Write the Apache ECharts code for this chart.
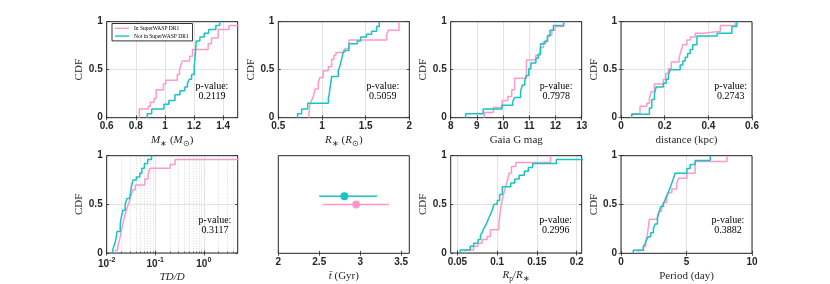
<!DOCTYPE html>
<html><head><meta charset="utf-8">
<script src="https://cdn.jsdelivr.net/npm/echarts@6/dist/echarts.min.js"></script>
<style>html,body{margin:0;padding:0;background:#fff}#c{width:830px;height:284px}</style>
</head><body><div id="c"></div>
<script>
// ---------------- DATA ----------------
const seriesNames = ['In SuperWASP DR1', 'Not in SuperWASP DR1'];

// Panel 1: stellar mass M* (Msun) — CDF step positions and levels
const mstarPinkX = [0.824, 0.886, 0.90, 0.925, 0.94, 0.99, 1.005, 1.085, 1.10, 1.11, 1.12, 1.17, 1.19, 1.297, 1.32, 1.366, 1.44, 1.56];
const mstarPinkY = [0.09, 0.12, 0.16, 0.20, 0.29, 0.35, 0.39, 0.45, 0.50, 0.55, 0.59, 0.64, 0.71, 0.77, 0.83, 0.92, 0.96, 1.0];
const mstarCyanX = [0.879, 0.909, 0.993, 1.027, 1.069, 1.103, 1.137, 1.155, 1.167, 1.183, 1.201, 1.205, 1.21, 1.215, 1.24, 1.27, 1.30, 1.35, 1.377];
const mstarCyanY = [0.04, 0.09, 0.14, 0.18, 0.24, 0.28, 0.32, 0.36, 0.40, 0.45, 0.52, 0.60, 0.68, 0.80, 0.84, 0.88, 0.92, 0.96, 1.0];

// Panel 2: stellar radius R* (Rsun)
const rstarPinkX = [0.851, 0.863, 0.882, 0.901, 0.920, 0.958, 0.977, 1.015, 1.073, 1.111, 1.137, 1.160, 1.263, 1.309, 1.740, 1.760, 1.882];
const rstarPinkY = [0.04, 0.15, 0.18, 0.22, 0.30, 0.37, 0.42, 0.49, 0.53, 0.61, 0.65, 0.68, 0.72, 0.81, 0.87, 0.91, 1.0];
const rstarCyanX = [0.721, 0.767, 0.836, 1.073, 1.084, 1.092, 1.103, 1.111, 1.187, 1.206, 1.225, 1.237, 1.252, 1.309, 1.405, 1.443, 1.511, 1.569, 1.626, 1.656];
const rstarCyanY = [0.04, 0.09, 0.15, 0.20, 0.25, 0.31, 0.37, 0.43, 0.49, 0.54, 0.61, 0.66, 0.70, 0.77, 0.80, 0.84, 0.87, 0.90, 0.95, 1.0];

// Panel 3: Gaia G magnitude
const gmagPinkX = [9.28, 9.63, 9.96, 10.18, 10.33, 10.44, 10.89, 11.25, 11.41, 11.54, 11.70, 11.86, 11.99, 12.31];
const gmagPinkY = [0.055, 0.107, 0.18, 0.22, 0.29, 0.41, 0.60, 0.65, 0.73, 0.79, 0.86, 0.91, 0.95, 1.0];
const gmagCyanX = [8.57, 9.24, 9.96, 10.37, 10.44, 10.67, 10.74, 10.83, 10.89, 10.98, 11.06, 11.25, 11.34, 11.43, 11.60, 11.69, 11.79, 11.92, 12.31];
const gmagCyanY = [0.04, 0.09, 0.13, 0.17, 0.21, 0.28, 0.34, 0.39, 0.44, 0.51, 0.57, 0.62, 0.66, 0.77, 0.80, 0.85, 0.91, 0.96, 1.0];

// Panel 4: distance (kpc)
const distPinkX = [0.049, 0.087, 0.118, 0.130, 0.138, 0.153, 0.194, 0.205, 0.217, 0.230, 0.266, 0.274, 0.283, 0.302, 0.317, 0.340, 0.378, 0.455, 0.524];
const distPinkY = [0.04, 0.12, 0.15, 0.20, 0.27, 0.35, 0.40, 0.46, 0.51, 0.58, 0.62, 0.69, 0.76, 0.81, 0.84, 0.88, 0.90, 0.96, 1.0];
const distCyanX = [0.049, 0.130, 0.141, 0.153, 0.161, 0.194, 0.207, 0.217, 0.225, 0.271, 0.283, 0.294, 0.305, 0.317, 0.329, 0.348, 0.440, 0.508, 0.531];
const distCyanY = [0.035, 0.10, 0.19, 0.25, 0.32, 0.36, 0.40, 0.44, 0.50, 0.55, 0.59, 0.63, 0.67, 0.71, 0.76, 0.85, 0.88, 0.95, 1.0];

// Panel 5: TD/D (log axis)
const tddPinkX = [0.0152, 0.0169, 0.0184, 0.0199, 0.0215, 0.0233, 0.0253, 0.0274, 0.0297, 0.0322, 0.0348, 0.0389, 0.0609, 0.0715, 0.0773, 0.2016, 0.2566, 8.0];
const tddPinkY = [0.03, 0.07, 0.14, 0.22, 0.30, 0.37, 0.44, 0.49, 0.54, 0.60, 0.65, 0.70, 0.76, 0.81, 0.87, 0.91, 0.96, 1.0];
const tddCyanX = [0.0133, 0.0140, 0.0152, 0.0163, 0.0190, 0.0199, 0.0215, 0.0240, 0.0262, 0.0297, 0.0322, 0.0348, 0.0408, 0.0479, 0.0530, 0.0598, 0.0700, 0.0840];
const tddCyanY = [0.03, 0.07, 0.12, 0.22, 0.30, 0.36, 0.44, 0.50, 0.56, 0.58, 0.68, 0.75, 0.78, 0.82, 0.87, 0.92, 0.96, 1.0];

// Panel 6: mean age t-bar (Gyr) with error bars
const tbarMean = [2.951, 2.807];   // pink, cyan
const tbarLow = [2.541, 2.50];
const tbarHigh = [3.352, 3.205];
const tbarLevel = [0.50, 0.584];

// Panel 7: Rp/R*
const rratPinkX = [0.0598, 0.0704, 0.0759, 0.0810, 0.0874, 0.0916, 0.1022, 0.1035, 0.1048, 0.1065, 0.1086, 0.1107, 0.1129, 0.1150, 0.1180, 0.1235, 0.1672];
const rratPinkY = [0.03, 0.07, 0.10, 0.14, 0.17, 0.24, 0.30, 0.40, 0.48, 0.55, 0.62, 0.68, 0.75, 0.82, 0.89, 0.93, 1.0];
const rratCyanX = [0.0534, 0.0661, 0.0704, 0.0759, 0.0789, 0.0810, 0.0831, 0.0853, 0.0874, 0.0895, 0.0916, 0.0938, 0.0959, 0.1001, 0.1031, 0.1065, 0.1171, 0.1222, 0.1277, 0.1341, 0.1392, 0.1447, 0.1745, 0.215];
const rratCyanY = [0.03, 0.07, 0.10, 0.14, 0.18, 0.21, 0.25, 0.28, 0.32, 0.36, 0.40, 0.44, 0.50, 0.54, 0.60, 0.68, 0.72, 0.76, 0.80, 0.84, 0.88, 0.92, 0.96, 1.0];

// Panel 8: orbital period (day)
const perPinkX = [1.33, 1.71, 1.89, 2.02, 2.17, 2.78, 2.91, 3.11, 3.24, 3.49, 3.62, 3.88, 4.26, 4.39, 5.03, 5.66, 8.09];
const perPinkY = [0.03, 0.07, 0.12, 0.20, 0.35, 0.39, 0.43, 0.47, 0.52, 0.57, 0.62, 0.66, 0.72, 0.77, 0.82, 0.94, 1.0];
const perCyanX = [0.94, 1.71, 1.84, 1.96, 2.09, 2.27, 2.47, 2.60, 2.78, 2.91, 3.04, 3.24, 3.37, 3.49, 3.62, 3.75, 3.88, 4.01, 4.13, 5.03, 5.28, 5.66, 6.81];
const perCyanY = [0.03, 0.07, 0.10, 0.14, 0.17, 0.21, 0.25, 0.30, 0.36, 0.42, 0.48, 0.51, 0.55, 0.59, 0.63, 0.67, 0.72, 0.77, 0.82, 0.87, 0.91, 0.95, 1.0];

// KS-test p-values
const pValues = ['0.2119', '0.5059', '0.7978', '0.2743', '0.3117', null, '0.2996', '0.3882'];

// Tick labels / axis ticks
const mstarTicks = [0.6, 0.8, 1, 1.2, 1.4];
const rstarTicks = [0.5, 1, 1.5, 2];
const gmagTicks = [8, 9, 10, 11, 12, 13];
const distTicks = [0, 0.2, 0.4, 0.6];
const tddTicks = [0.01, 0.1, 1];
const tddMinorTicks = [0.02, 0.03, 0.04, 0.05, 0.06, 0.07, 0.08, 0.09, 0.2, 0.3, 0.4, 0.5, 0.6, 0.7, 0.8, 0.9, 2, 3, 4, 5];
const tbarTicks = [2, 2.5, 3, 3.5];
const rratTicks = [0.05, 0.1, 0.15, 0.2];
const perTicks = [0, 5, 10];
const cdfTicks = [0, 0.5, 1];

// ---------------- STYLE / LAYOUT ----------------
const PINK = '#ff99cc', CYAN = '#17c4c4';
const DARK = '#262626', GRID = '#e3e3e3';
const SANS = 'Liberation Sans', SERIF = 'Liberation Serif';
const lefts = [106.7, 278.3, 450.7, 621.0];
const tops = [21.7, 155.7];
const plotW = 131, plotH = [96, 97.6];
const pPos = [[212, 91.3], [382.8, 91.3], [556.2, 91.3], [730.7, 91.3], [215, 225.3], null, [555.7, 225.3], [728, 225.3]];

const nameRich = {
  it: { fontStyle: 'italic', fontFamily: SERIF, fontSize: 11, color: DARK, lineHeight: 15 },
  n: { fontFamily: SERIF, fontSize: 11, color: DARK, lineHeight: 15 },
  sub: { fontFamily: SERIF, fontSize: 7.5, color: DARK, verticalAlign: 'bottom', lineHeight: 12 },
  subit: { fontFamily: SERIF, fontStyle: 'italic', fontSize: 7.5, color: DARK, verticalAlign: 'bottom', lineHeight: 12 }
};

const panels = [
  { type: 'value', min: 0.6, max: 1.5, ticks: mstarTicks, name: '{it|M}{sub|∗}{n| (}{it|M}{sub|⊙}{n|)}', pink: [mstarPinkX, mstarPinkY], cyan: [mstarCyanX, mstarCyanY] },
  { type: 'value', min: 0.5, max: 2, ticks: rstarTicks, name: '{it|R}{sub|∗}{n| (}{it|R}{sub|⊙}{n|)}', pink: [rstarPinkX, rstarPinkY], cyan: [rstarCyanX, rstarCyanY] },
  { type: 'value', min: 8, max: 13, ticks: gmagTicks, name: '{n|Gaia G mag}', pink: [gmagPinkX, gmagPinkY], cyan: [gmagCyanX, gmagCyanY] },
  { type: 'value', min: 0, max: 0.6, ticks: distTicks, name: '{n|distance (kpc)}', pink: [distPinkX, distPinkY], cyan: [distCyanX, distCyanY] },
  { type: 'log', min: 0.01, max: 5, ticks: tddTicks, minor: tddMinorTicks, name: '{it|TD/D}', pink: [tddPinkX, tddPinkY], cyan: [tddCyanX, tddCyanY] },
  { type: 'value', min: 2, max: 3.6, ticks: tbarTicks, name: '{it|t̄}{n| (Gyr)}', errorbar: true },
  { type: 'value', min: 0.0415, max: 0.2064, ticks: rratTicks, name: '{it|R}{sub|p}{n|/}{it|R}{sub|∗}', pink: [rratPinkX, rratPinkY], cyan: [rratCyanX, rratCyanY] },
  { type: 'value', min: 0, max: 10, ticks: perTicks, name: '{n|Period (day)}', pink: [perPinkX, perPinkY], cyan: [perCyanX, perCyanY] }
];

function stepData(xs, ys) {
  const d = [[xs[0], 0]];
  for (let i = 0; i < xs.length; i++) d.push([xs[i], ys[i]]);
  return d;
}

const grid = [], xAxis = [], yAxis = [], series = [], graphic = [];
const labelStyle = { fontFamily: SANS, fontSize: 10, fontWeight: 'bold', color: DARK };

panels.forEach((p, i) => {
  const row = Math.floor(i / 4), col = i % 4;
  grid.push({ left: lefts[col], top: tops[row], width: plotW, height: plotH[row], show: true, borderColor: DARK, borderWidth: 1, backgroundColor: 'transparent', z: 1 });
  const isLog = p.type === 'log';
  const xBottom = {
    gridIndex: i, type: p.type, min: p.min, max: p.max, position: 'bottom', z: 0,
    axisLine: { show: false },
    axisTick: { show: true, inside: true, length: 2.5, customValues: p.ticks, lineStyle: { color: DARK, width: 0.8 } },
    axisLabel: Object.assign({ customValues: p.ticks, margin: 4, showMinLabel: true, showMaxLabel: true,
      formatter: isLog ? (v) => { const e = Math.round(Math.log10(v)); return '{b|10}{sup|' + (e < 0 ? '-' + (-e) : e) + '}'; } : undefined,
      rich: isLog ? { b: Object.assign({ lineHeight: 14 }, labelStyle), sup: Object.assign({}, labelStyle, { fontSize: 7, verticalAlign: 'top', lineHeight: 7 }) } : undefined
    }, labelStyle),
    splitLine: { show: !p.errorbar, lineStyle: { color: GRID, width: 1 } },
    name: p.name, nameLocation: 'middle', nameGap: isLog ? 17 : 15,
    nameTextStyle: { rich: nameRich }
  };
  if (!isLog) { delete xBottom.axisLabel.formatter; delete xBottom.axisLabel.rich; }
  const xb = xAxis.length; xAxis.push(xBottom);
  xAxis.push({ gridIndex: i, type: p.type, min: p.min, max: p.max, position: 'top', z: 0,
    axisLine: { show: false }, axisLabel: { show: false }, splitLine: { show: false },
    axisTick: { show: true, inside: true, length: 2.5, customValues: p.ticks, lineStyle: { color: DARK, width: 0.8 } } });
  if (p.minor) {
    xAxis.push({ gridIndex: i, type: p.type, min: p.min, max: p.max, position: 'bottom', z: 0,
      axisLine: { show: false }, axisLabel: { show: false },
      axisTick: { show: true, inside: true, length: 1.5, customValues: p.minor, lineStyle: { color: DARK, width: 0.6 } },
      splitLine: { show: true, lineStyle: { color: '#cfcfcf', width: 0.8, type: [1, 1.5] } } });
  }
  const yl = yAxis.length;
  yAxis.push({ gridIndex: i, type: 'value', min: 0, max: 1, position: 'left', z: 0,
    axisLine: { show: false },
    axisTick: { show: !p.errorbar, inside: true, length: 2.5, customValues: cdfTicks, lineStyle: { color: DARK, width: 0.8 } },
    axisLabel: Object.assign({ show: !p.errorbar, customValues: cdfTicks, margin: 4 }, labelStyle),
    splitLine: { show: !p.errorbar, lineStyle: { color: GRID, width: 1 } },
    name: p.errorbar ? '' : 'CDF', nameLocation: 'middle', nameGap: 18,
    nameTextStyle: { fontFamily: SERIF, fontSize: 11, color: DARK } });
  yAxis.push({ gridIndex: i, type: 'value', min: 0, max: 1, position: 'right', z: 0,
    axisLine: { show: false }, axisLabel: { show: false }, splitLine: { show: false },
    axisTick: { show: !p.errorbar, inside: true, length: 2.5, customValues: cdfTicks, lineStyle: { color: DARK, width: 0.8 } } });

  if (p.errorbar) {
    [0, 1].forEach(k => {
      const col = k === 0 ? PINK : CYAN;
      series.push({ type: 'line', name: seriesNames[k], xAxisIndex: xb, yAxisIndex: yl, symbol: 'none', silent: true,
        lineStyle: { color: col, width: 1.5 }, itemStyle: { color: col },
        data: [[tbarLow[k], tbarLevel[k]], [tbarHigh[k], tbarLevel[k]]], z: 3 });
      series.push({ type: 'scatter', name: seriesNames[k], xAxisIndex: xb, yAxisIndex: yl, symbolSize: 8, silent: true,
        itemStyle: { color: col, opacity: 1 }, data: [[tbarMean[k], tbarLevel[k]]], z: 4 });
    });
  } else {
    [p.pink, p.cyan].forEach((s, k) => {
      const col = k === 0 ? PINK : CYAN;
      series.push({ type: 'line', name: seriesNames[k], xAxisIndex: xb, yAxisIndex: yl, step: 'end', symbol: 'none', silent: true,
        clip: true, lineStyle: { color: col, width: 1.5 }, itemStyle: { color: col },
        data: stepData(s[0], s[1]), z: 3 + k });
    });
    if (pValues[i]) {
      graphic.push({ type: 'text', x: pPos[i][0], y: pPos[i][1], z: 20, silent: true,
        style: { text: 'p-value:\n' + pValues[i], fontFamily: SERIF, fontSize: 10, lineHeight: 9.8, fill: '#000', textAlign: 'center', textVerticalAlign: 'middle' } });
    }
  }
});

const chart = echarts.init(document.getElementById('c'), null, { renderer: 'canvas' });
chart.setOption({
  animation: false,
  backgroundColor: '#fff',
  grid, xAxis, yAxis, series, graphic,
  legend: {
    data: seriesNames.map((n, k) => ({ name: n, icon: 'rect', itemStyle: { color: k === 0 ? PINK : CYAN } })),
    left: 112, top: 23.5, orient: 'vertical', selectedMode: false,
    itemWidth: 14, itemHeight: 1.4, itemGap: 1.2, padding: [1.5, 4, 1.5, 3],
    borderColor: '#000', borderWidth: 0.8, backgroundColor: '#fff', z: 10,
    textStyle: { fontFamily: SERIF, fontSize: 5.5, color: '#000', lineHeight: 6.6 }
  }
});
</script></body></html>
